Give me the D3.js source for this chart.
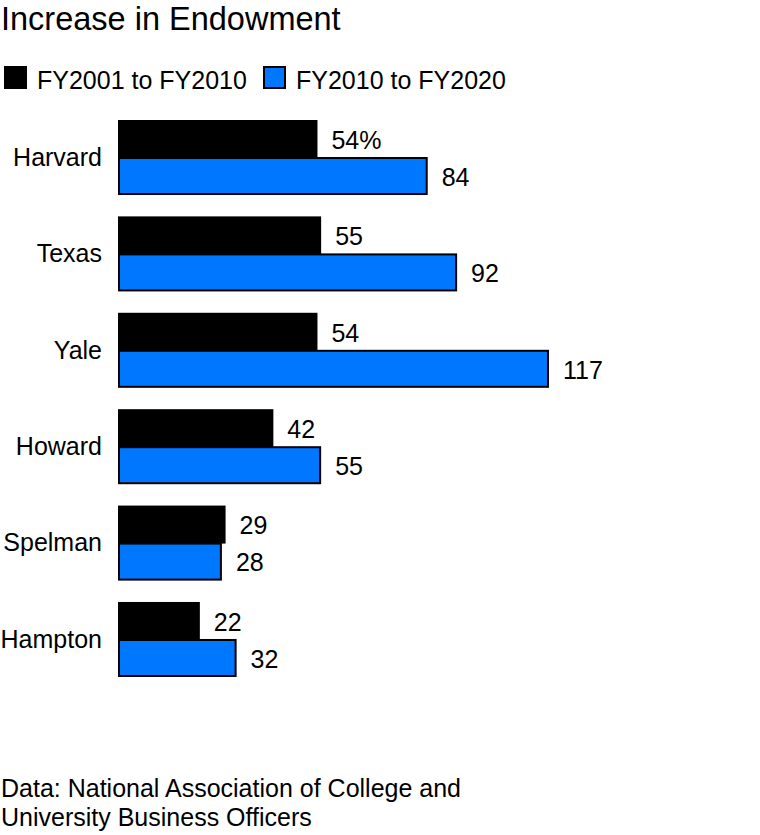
<!DOCTYPE html>
<html>
<head>
<meta charset="utf-8">
<script src="https://cdn.jsdelivr.net/npm/d3@7"></script>
<style>
  body { margin: 0; background: #fff; }
  svg { display: block; font-family: "Liberation Sans", Arial, sans-serif; }
</style>
</head>
<body>
<script>
// Data
const schools = ["Harvard", "Texas", "Yale", "Howard", "Spelman", "Hampton"];
const fy2001to2010 = [54, 55, 54, 42, 29, 22];
const fy2010to2020 = [84, 92, 117, 55, 28, 32];
const seriesNames = ["FY2001 to FY2010", "FY2010 to FY2020"];
const seriesColors = ["#000000", "#0077ff"];

const width = 760;
const height = 835;
const fontSize = 25;

const svg = d3.select("body")
  .append("svg")
  .attr("width", width)
  .attr("height", height);

// Title
svg.append("text")
  .attr("x", 1)
  .attr("y", 30)
  .attr("font-size", 32.5)
  .attr("fill", "#000")
  .text("Increase in Endowment");

// Legend
const legend = svg.append("g").attr("class", "legend");
const legendX = [4, 263];
seriesNames.forEach((name, i) => {
  const g = legend.append("g").attr("transform", `translate(${legendX[i]},66)`);
  g.append("rect")
    .attr("x", 1).attr("y", 1)
    .attr("width", 21).attr("height", 21)
    .attr("fill", seriesColors[i])
    .attr("stroke", "#000")
    .attr("stroke-width", 2);
  g.append("text")
    .attr("x", 33)
    .attr("y", 23)
    .attr("font-size", fontSize)
    .text(name);
});

// Scales
const x = d3.scaleLinear()
  .domain([0, 117])
  .range([118, 548]);

const y = d3.scaleBand()
  .domain(schools)
  .range([120, 676])
  .paddingInner(0.232)
  .paddingOuter(0);

const sub = d3.scaleBand()
  .domain([0, 1])
  .range([0, y.bandwidth()]);

const rows = schools.map((s, i) => ({
  school: s,
  values: [fy2001to2010[i], fy2010to2020[i]]
}));

const groups = svg.selectAll("g.row")
  .data(rows)
  .join("g")
  .attr("class", "row")
  .attr("transform", d => `translate(0,${y(d.school)})`);

// Category labels
groups.append("text")
  .attr("x", 102)
  .attr("y", y.bandwidth() / 2)
  .attr("dy", "0.35em")
  .attr("text-anchor", "end")
  .attr("font-size", fontSize)
  .text(d => d.school);

// Bars (second series drawn first so black overlaps cleanly)
groups.selectAll("rect.bar")
  .data(d => d.values.map((v, i) => ({ v, i })).reverse())
  .join("rect")
  .attr("class", "bar")
  .attr("x", x(0) + 1)
  .attr("y", d => sub(d.i) + 1)
  .attr("width", d => x(d.v) - x(0) - 1)
  .attr("height", sub.bandwidth() - 1)
  .attr("fill", d => seriesColors[d.i])
  .attr("stroke", "#000")
  .attr("stroke-width", 2);

// Value labels
groups.selectAll("text.value")
  .data((d, rowIdx) => d.values.map((v, i) => ({ v, i, first: rowIdx === 0 })))
  .join("text")
  .attr("class", "value")
  .attr("x", d => x(d.v) + 15)
  .attr("y", d => sub(d.i) + sub.bandwidth() / 2 + 1.5)
  .attr("dy", "0.35em")
  .attr("font-size", fontSize)
  .text(d => d.first && d.i === 0 ? d.v + "%" : d.v);

// Source
const source = svg.append("text")
  .attr("font-size", fontSize);
source.append("tspan").attr("x", 1).attr("y", 797)
  .text("Data: National Association of College and");
source.append("tspan").attr("x", 1).attr("y", 826)
  .text("University Business Officers");
</script>
</body>
</html>
